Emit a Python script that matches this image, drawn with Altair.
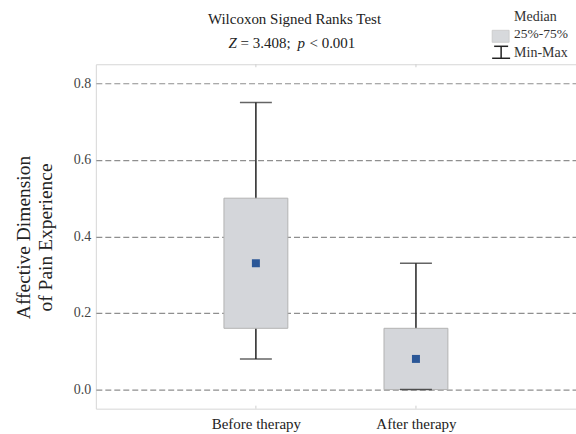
import altair as alt
import pandas as pd

groups = ["Before therapy", "After therapy"]
mins = [0.08, 0.0]
q1 = [0.16, 0.0]
medians = [0.33, 0.08]
q3 = [0.50, 0.16]
maxs = [0.75, 0.33]
y_ticks = [0.0, 0.2, 0.4, 0.6, 0.8]

df = pd.DataFrame({"group": groups, "min": mins, "q1": q1, "median": medians,
                   "q3": q3, "max": maxs})

FONT = "Liberation Serif"
OX, OY = 96, 64
W, H = 481, 345

xenc = alt.X("group:N", sort=groups, title=None,
             scale=alt.Scale(type="point", padding=1),
             axis=alt.Axis(labelFont=FONT, labelFontSize=15, labelColor="#222",
                           labelPadding=8, ticks=False, domain=False, grid=False,
                           labelAngle=0))
yscale = alt.Scale(domain=[-0.05, 0.85], nice=False, zero=False)
yaxis = alt.Axis(values=y_ticks, format=".1f", labelFont=FONT, labelFontSize=14,
                 labelColor="#444", labelPadding=5, ticks=False, domain=False,
                 grid=True, gridDash=[6, 3], gridColor="#8f8f8f", gridWidth=1.2,
                 title=["Affective Dimension", "of Pain Experience"],
                 titleFont=FONT, titleFontSize=19.5, titleFontWeight="normal",
                 titleColor="#222", titleAngle=270, titleX=-72, titleY=173,
                 titleAlign="center", titleBaseline="middle", titleLineHeight=22)

base = alt.Chart(df)

whisker = base.mark_rule(color="#222", strokeWidth=1.5).encode(
    x=xenc, y=alt.Y("min:Q", scale=yscale, axis=yaxis), y2="max:Q")
cap_top = base.mark_tick(color="#222", size=32, thickness=1.5, orient="horizontal").encode(
    x=xenc, y=alt.Y("max:Q", scale=yscale))
cap_bot = base.mark_tick(color="#222", size=32, thickness=1.5, orient="horizontal").encode(
    x=xenc, y=alt.Y("min:Q", scale=yscale))
box = base.mark_bar(size=64, fill="#d4d6da", stroke="#b3b3b3", strokeWidth=1).encode(
    x=xenc, y=alt.Y("q1:Q", scale=yscale), y2="q3:Q")
med = base.mark_square(size=64, color="#2b5797", opacity=1).encode(
    x=xenc, y=alt.Y("median:Q", scale=yscale))
xt_bot = base.mark_rule(color="#cfcfcf", strokeWidth=1).encode(
    x=xenc, y=alt.value(H - 3), y2=alt.value(H))
xt_top = base.mark_rule(color="#cfcfcf", strokeWidth=1).encode(
    x=xenc, y=alt.value(0), y2=alt.value(3))

one = pd.DataFrame({"k": [0]})


def txt(s, x, y, size, italic=False, align="left", color="#222"):
    return alt.Chart(pd.DataFrame({"t": [s]})).mark_text(
        font=FONT, fontSize=size, fontStyle="italic" if italic else "normal",
        align=align, baseline="alphabetic", color=color).encode(
        text="t:N", x=alt.value(x - OX), y=alt.value(y - OY))


def rule(x1, y1, x2, y2, w=1.5):
    return alt.Chart(one).mark_rule(color="#222", strokeWidth=w).encode(
        x=alt.value(x1 - OX), x2=alt.value(x2 - OX),
        y=alt.value(y1 - OY), y2=alt.value(y2 - OY))


texts = [
    txt("Wilcoxon Signed Ranks Test", 295, 24, 15, align="center"),
    txt("Z", 229, 48, 15, italic=True),
    txt("= 3.408;", 241, 48, 15),
    txt("p", 298, 48, 15, italic=True),
    txt("< 0.001", 310, 48, 15),
    txt("Median", 515, 21, 14, color="#333"),
    txt("25%-75%", 515, 38, 13.5, color="#333"),
    txt("Min-Max", 515, 57, 14, color="#333"),
]

leg_rect = alt.Chart(one).mark_rect(fill="#d7d9dc", stroke="#c8c8c8", strokeWidth=0.8).encode(
    x=alt.value(493 - OX), x2=alt.value(510 - OX),
    y=alt.value(30 - OY), y2=alt.value(42 - OY))
leg_rules = [rule(495, 46, 509, 46), rule(502, 46, 502, 58), rule(493, 58, 511, 58)]

chart = alt.layer(xt_bot, xt_top, whisker, box, cap_top, cap_bot, med, leg_rect,
                  *leg_rules, *texts).properties(
    width=W, height=H,
    autosize=alt.AutoSizeParams(type="none"),
    padding={"left": OX, "top": OY, "right": 0, "bottom": 434 - OY - H},
    background="white",
).configure_view(stroke="#d6d6d6", strokeWidth=1)

chart.save("out.html", embed_options={"renderer": "svg", "actions": False})
